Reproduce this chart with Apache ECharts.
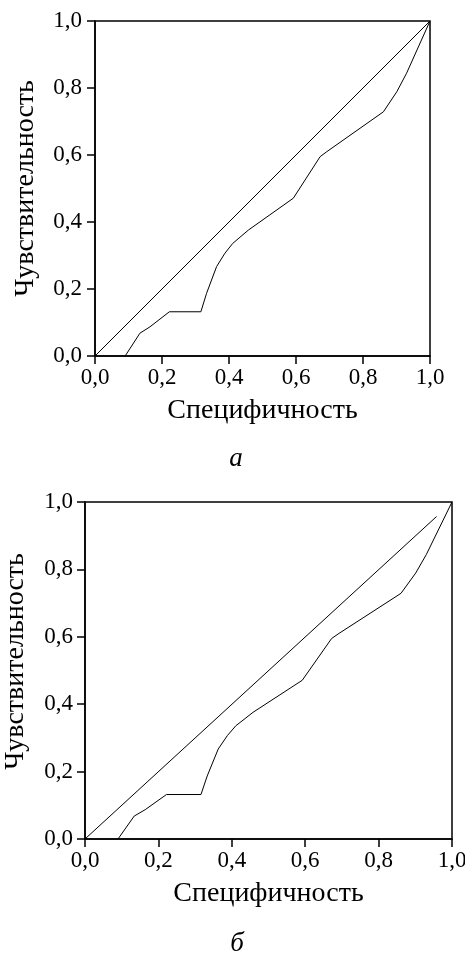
<!DOCTYPE html>
<html>
<head>
<meta charset="utf-8">
<script src="https://cdn.jsdelivr.net/npm/echarts@6/dist/echarts.min.js"></script>
<style>
html,body{margin:0;padding:0;background:#fff;}
#chart{width:465px;height:957px;}
</style>
</head>
<body>
<div id="chart"></div>
<script>
// ROC curve (same in both panels)
const specificity = [0.090, 0.134, 0.164, 0.222, 0.316, 0.333, 0.363, 0.388, 0.411, 0.458, 0.592, 0.672, 0.692, 0.861, 0.901, 0.930, 1.0];
const sensitivity = [0.0, 0.068, 0.087, 0.132, 0.132, 0.187, 0.267, 0.307, 0.336, 0.376, 0.471, 0.595, 0.610, 0.729, 0.789, 0.844, 1.0];
// reference lines
const diagA_x = [0, 1];
const diagA_y = [0, 1];
const diagB_x = [0, 0.958];
const diagB_y = [0, 0.957];
// texts
const xTitle = 'Специфичность';
const yTitle = 'Чувствительность';
const panelLabels = ['а', 'б'];

const FONT = 'Liberation Serif';
const zip = (a, b) => a.map((v, i) => [v, b[i]]);
const fmt = v => v.toFixed(1).replace('.', ',');

function xAxisCfg(gridIndex) {
  return {
    gridIndex, type: 'value', min: 0, max: 1, interval: 0.2,
    name: xTitle, nameLocation: 'middle', nameGap: 41,
    nameTextStyle: { fontFamily: FONT, fontSize: 28, color: '#000' },
    axisLine: { show: true, lineStyle: { color: '#000', width: 1.5 } },
    axisTick: { show: true, inside: false, length: 8, lineStyle: { color: '#000', width: 1.5 } },
    axisLabel: { formatter: fmt, fontFamily: FONT, fontSize: 23, color: '#000', margin: 10 },
    splitLine: { show: false }
  };
}
function yAxisCfg(gridIndex, margin, pad) {
  return {
    gridIndex, type: 'value', min: 0, max: 1, interval: 0.2,
    name: yTitle, nameLocation: 'middle', nameGap: 55,
    nameTextStyle: { fontFamily: FONT, fontSize: 28, color: '#000', padding: pad },
    axisLine: { show: true, lineStyle: { color: '#000', width: 1.5 } },
    axisTick: { show: true, inside: false, length: 8, lineStyle: { color: '#000', width: 1.5 } },
    axisLabel: { formatter: fmt, fontFamily: FONT, fontSize: 23, color: '#000', margin },
    splitLine: { show: false }
  };
}
function lineSeries(idx, data) {
  return {
    type: 'line', xAxisIndex: idx, yAxisIndex: idx, data,
    symbol: 'none', silent: true,
    lineStyle: { color: '#000', width: 1 }
  };
}

const chart = echarts.init(document.getElementById('chart'), null, { renderer: 'canvas' });
chart.setOption({
  animation: false,
  backgroundColor: '#fff',
  title: [
    { text: panelLabels[0], left: 231, top: 440, textAlign: 'center',
      textStyle: { fontFamily: FONT, fontSize: 27, fontStyle: 'italic', fontWeight: 'normal', color: '#000' } },
    { text: panelLabels[1], left: 232, top: 925, textAlign: 'center',
      textStyle: { fontFamily: FONT, fontSize: 27, fontStyle: 'italic', fontWeight: 'normal', color: '#000' } }
  ],
  grid: [
    { left: 95, top: 21, width: 335, height: 335, show: true, borderColor: '#000', borderWidth: 1.5,
      containLabel: false, outerBoundsMode: 'none' },
    { left: 85, top: 502, width: 367, height: 337, show: true, borderColor: '#000', borderWidth: 1.5,
      containLabel: false, outerBoundsMode: 'none' }
  ],
  xAxis: [xAxisCfg(0), xAxisCfg(1)],
  yAxis: [yAxisCfg(0, 13, [0, 0, 0, 0]), yAxisCfg(1, 12, [0, 0, 0, 18])],
  series: [
    lineSeries(0, zip(diagA_x, diagA_y)),
    lineSeries(0, zip(specificity, sensitivity)),
    lineSeries(1, zip(diagB_x, diagB_y)),
    lineSeries(1, zip(specificity, sensitivity))
  ]
});
</script>
</body>
</html>
